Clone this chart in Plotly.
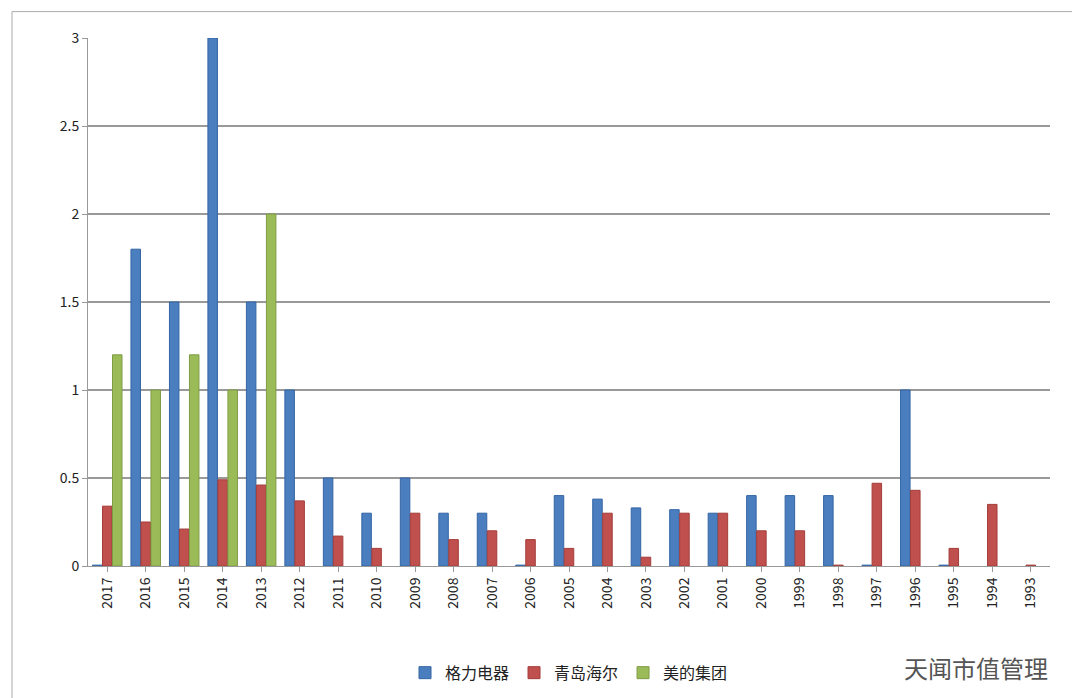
import plotly.graph_objects as go

years = ["2017","2016","2015","2014","2013","2012","2011","2010","2009","2008","2007","2006","2005","2004","2003","2002","2001","2000","1999","1998","1997","1996","1995","1994","1993"]
gree = [0.005,1.8,1.5,3,1.5,1,0.5,0.3,0.5,0.3,0.3,0.005,0.4,0.38,0.33,0.32,0.3,0.4,0.4,0.4,0.005,1,0.005,None,None]
haier = [0.34,0.25,0.21,0.49,0.46,0.37,0.17,0.1,0.3,0.15,0.2,0.15,0.1,0.3,0.05,0.3,0.3,0.2,0.2,0.005,0.47,0.43,0.1,0.35,0.005]
midea = [1.2,1.0,1.2,1.0,2.0] + [None]*20

fig = go.Figure()
for name, vals, col, lc in [("格力电器", gree, "#4a7ebf", "#3465a4"),
                            ("青岛海尔", haier, "#c0504d", "#a33d3a"),
                            ("美的集团", midea, "#9bbb59", "#7f9c45")]:
    fig.add_bar(x=years, y=vals, name=name, marker=dict(color=col, line=dict(color=lc, width=1)))

fig.update_layout(
    width=1080, height=698, barmode="group", bargap=0.22, bargroupgap=0.05,
    plot_bgcolor="white", paper_bgcolor="white",
    margin=dict(l=80, r=38, t=30, b=140),
    font=dict(family="Noto Sans CJK SC, DejaVu Sans", size=14, color="#222"),
    xaxis=dict(type="category", tickangle=-90, showline=True, linecolor="#999",
               ticks="outside", tickcolor="#999", tickfont=dict(size=14)),
    yaxis=dict(range=[0, 3], dtick=0.5, showgrid=True, gridcolor="#999", gridwidth=2,
               showline=True, linecolor="#999", ticks="outside", tickcolor="#999",
               tickfont=dict(size=14), zeroline=False),
    legend=dict(orientation="h", x=0.5, xanchor="center", y=-0.17, yanchor="top",
                font=dict(size=16)),
    shapes=[dict(type="rect", xref="paper", yref="paper", x0=-0.079, x1=1.036, y0=-0.26, y1=1.05,
                 line=dict(color="#aaa", width=1))],
    annotations=[dict(text="天闻市值管理", xref="paper", yref="paper", x=1.0, y=-0.155,
                      xanchor="right", yanchor="top", showarrow=False,
                      font=dict(size=24, color="#555"))],
)
fig.write_html("out.html")
